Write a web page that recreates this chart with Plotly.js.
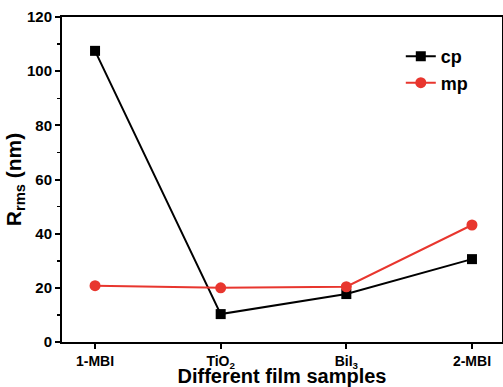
<!DOCTYPE html>
<html>
<head>
<meta charset="utf-8">
<script src="https://cdn.plot.ly/plotly-3.0.1.min.js"></script>
<style>html,body{margin:0;padding:0;background:#fff;}#chart{width:503px;height:387px;}</style>
</head>
<body>
<div id="chart"></div>
<script>
const categories = ['1-MBI', 'TiO<sub>2</sub>', 'BiI<sub>3</sub>', '2-MBI'];
const cpValues = [107.5, 10.3, 17.7, 30.6];
const mpValues = [20.8, 20.0, 20.4, 43.2];
const yTicks = [0, 20, 40, 60, 80, 100, 120];

const xIdx = categories.map((_, i) => i);
const font = {family: 'Liberation Sans, Arial, sans-serif', color: '#000'};

const traces = [
  {x: xIdx, y: cpValues, name: 'cp', type: 'scatter', mode: 'lines+markers',
   line: {color: '#000000', width: 2}, marker: {symbol: 'square', size: 10, color: '#000000'}},
  {x: xIdx, y: mpValues, name: 'mp', type: 'scatter', mode: 'lines+markers',
   line: {color: '#e8362e', width: 2}, marker: {symbol: 'circle', size: 11, color: '#e8362e'}}
];

const layout = {
  width: 503, height: 387,
  margin: {l: 62, r: 1, t: 17, b: 45},
  paper_bgcolor: '#fff', plot_bgcolor: '#fff',
  font: font,
  showlegend: true,
  legend: {x: 0.77, y: 0.935, xanchor: 'left', yanchor: 'top', bgcolor: 'rgba(0,0,0,0)',
           font: {family: font.family, size: 18, weight: 'bold', color: '#000'}, tracegroupgap: 0},
  xaxis: {
    range: [-0.263, 3.239], tickvals: xIdx, ticktext: categories,
    showgrid: false, zeroline: false, showline: true, linecolor: '#000', linewidth: 2, mirror: true,
    ticks: 'outside', ticklen: 5, tickwidth: 2, tickcolor: '#000',
    tickfont: {family: font.family, size: 14, weight: 'bold', color: '#000'},
    title: {text: 'Different film samples', standoff: 6,
            font: {family: font.family, size: 20, weight: 'bold', color: '#000'}}
  },
  yaxis: {
    range: [0, 120], tickvals: yTicks,
    showgrid: false, zeroline: false, showline: true, linecolor: '#000', linewidth: 2, mirror: true,
    ticks: 'outside', ticklen: 5, tickwidth: 2, tickcolor: '#000',
    minor: {dtick: 10, ticks: 'outside', ticklen: 3, tickwidth: 1.5, tickcolor: '#000', showgrid: false},
    tickfont: {family: font.family, size: 15, weight: 'bold', color: '#000'},
    title: {text: 'R<sub>rms</sub> (nm)', standoff: 0,
            font: {family: font.family, size: 21, weight: 'bold', color: '#000'}}
  }
};

Plotly.newPlot('chart', traces, layout, {displayModeBar: false, staticPlot: true});
</script>
</body>
</html>
